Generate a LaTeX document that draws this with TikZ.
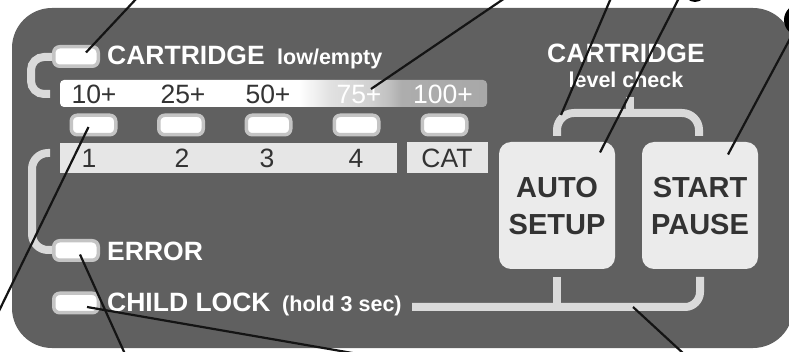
\documentclass[tikz,border=0pt]{standalone}
\usepackage{fontspec}
\setmainfont{Liberation Sans}
\definecolor{panel}{HTML}{606060}
\definecolor{ledring}{HTML}{C4C4C4}
\definecolor{brk}{HTML}{DADADA}
\definecolor{btnfill}{HTML}{EBEBEB}
\definecolor{darktxt}{HTML}{333333}
\definecolor{numbar}{HTML}{E6E6E6}
\definecolor{barA}{HTML}{E2E2E2}
\definecolor{barB}{HTML}{D0D0D0}
\definecolor{barC}{HTML}{C0C0C0}
\definecolor{barD}{HTML}{ADADAD}
\definecolor{barE}{HTML}{A8A8A8}
\pgfdeclarehorizontalshading{barshade}{100bp}{color(0bp)=(white); color(25bp)=(white); color(53bp)=(white); color(56.5bp)=(barA); color(61.5bp)=(barB); color(63.5bp)=(barC); color(65bp)=(barD); color(75bp)=(barE); color(100bp)=(barE)}
\begin{document}
\begin{tikzpicture}[x=1pt,y=-1pt,
  lbl/.style={text=white, font=\fontsize{26.5}{30}\selectfont\bfseries, inner sep=0pt, anchor=base west},
  smalllbl/.style={text=white, font=\fontsize{21.5}{24}\selectfont\bfseries, inner sep=0pt},
  num/.style={text=darktxt, font=\fontsize{26.5}{30}\selectfont, inner sep=0pt, anchor=base},
  btntxt/.style={text=darktxt, font=\fontsize{29}{32}\selectfont\bfseries, inner sep=0pt, anchor=base},
  led/.style={draw=ledring, line width=3.5pt, fill=white, rounded corners=6pt, minimum width=44.5pt, minimum height=19.5pt, inner sep=0pt},
  bracket/.style={draw=brk, line width=8pt, rounded corners=14pt},
  callout/.style={draw=black!92, line width=2.2pt},
  btn/.style={fill=btnfill, rounded corners=12pt, inner sep=0pt}]
\useasboundingbox (0,0) rectangle (789,352);
\path[clip] (0,0) rectangle (789,352);
\fill[white] (0,0) rectangle (789,352);
% panel
\fill[panel, rounded corners=40pt] (12,8) rectangle (793,348);
% brackets
\draw[bracket, rounded corners=13pt] (56,57) -| (31,94) -- (50,94);
\draw[bracket, rounded corners=16pt] (50,153) -| (32,250) -- (56,250);
\draw[bracket, rounded corners=17pt] (557,136) |- (699,113) -- (699,136);
\draw[bracket, rounded corners=0pt] (630,113) -- (630,97);
\draw[bracket, rounded corners=15pt] (412,307) -| (700,277);
\draw[bracket, rounded corners=0pt] (557,307) -- (557,277);
% level bar
\shade[shading=barshade, rounded corners=4pt] (60,80) rectangle (487,107);
% number bars
\fill[numbar] (60,143) rectangle (397,173);
\fill[numbar] (407,142) rectangle (488,173);
% LEDs
\node[led] (led0) at (76,56.5) {};
\node[led] (l1) at (93.5,125) {};
\node[led] (l2) at (181,125) {};
\node[led] (l3) at (268.5,125) {};
\node[led] (l4) at (356.5,125) {};
\node[led] (l5) at (444.5,125) {};
\node[led] (lerr) at (76,250.5) {};
\node[led] (lchild) at (76,303) {};
% buttons
\node[btn, minimum width=116pt, minimum height=127pt] (auto) at (557,205.5) {};
\node[btn, minimum width=116pt, minimum height=127pt] (start) at (700,205.5) {};
\node[btntxt] (autoA) at (557,198) {AUTO};
\node[btntxt] (autoB) at (557,235) {SETUP};
\node[btntxt] (startA) at (700,198) {START};
\node[btntxt] (startB) at (700,235) {PAUSE};
% labels
\node[lbl] (cart) at (107,65) {CARTRIDGE};
\node[smalllbl, anchor=base west] (lowempty) at (277,65) {low/empty};
\node[lbl, anchor=base] (cart2) at (626,63) {CARTRIDGE};
\node[smalllbl, anchor=base] (lvl) at (626,88) {level check};
\node[lbl] (err) at (107,261) {ERROR};
\node[lbl] (child) at (107,312) {CHILD LOCK};
\node[smalllbl, anchor=base west] (hold) at (282,312) {(hold 3 sec)};
% level numbers
\node[num] (t10) at (94,104) {10+};
\node[num] (t25) at (183,104) {25+};
\node[num] (t50) at (268,104) {50+};
\node[num, text=white] (t75) at (359,104) {75+};
\node[num, text=white] (t100) at (443,104) {100+};
\node[num] (n1) at (89,168) {1};
\node[num] (n2) at (182,168) {2};
\node[num] (n3) at (267,168) {3};
\node[num] (n4) at (356,168) {4};
\node[num] (ncat) at (447,168) {CAT};
% callout ends
\coordinate (e1) at (137,-2);
\coordinate (e2) at (505,-2);
\coordinate (e3) at (611,-2);
\coordinate (e4) at (679,-2);
\coordinate (e5) at (800,20);
\coordinate (e6) at (-2,313);
\coordinate (e7) at (125,354);
\coordinate (e8) at (358,354);
\coordinate (e9) at (684,354);
\coordinate (bt) at (561,115);
\coordinate (bb) at (633,307);
% callouts
\draw[callout] ([shift={(10,-4)}]led0.center) -- (e1);
\draw[callout] ([shift={(12,-15)}]t75.base) -- (e2);
\draw[callout] (bt) -- (e3);
\draw[callout] ([shift={(43,-53)}]auto.center) -- (e4);
\draw[callout] ([shift={(28,-51)}]start.center) -- (e5);
\draw[callout] ([shift={(-5,2)}]l1.center) -- (e6);
\draw[callout] ([shift={(4,4)}]lerr.center) -- (e7);
\draw[callout] ([shift={(11,4)}]lchild.center) -- (e8);
\draw[callout] (bb) -- (e9);
\fill[black] (695,-9) circle (11);
\fill[black] (800,20) circle (16);
\end{tikzpicture}
\end{document}
